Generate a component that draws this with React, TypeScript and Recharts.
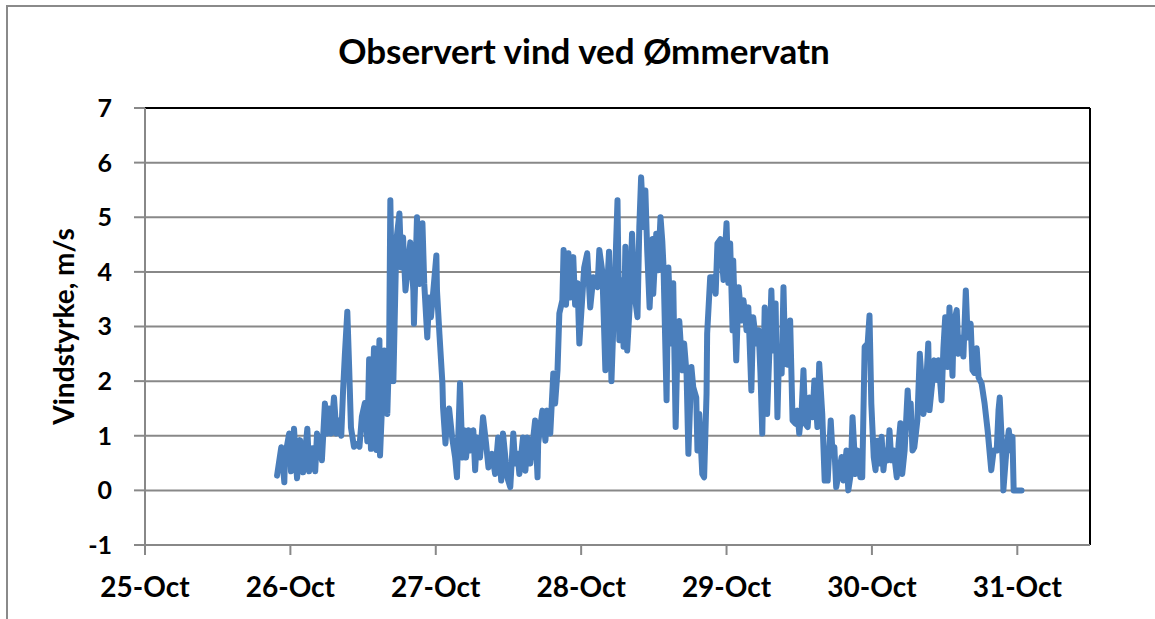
import { LineChart, Line, XAxis, YAxis, CartesianGrid, ReferenceLine } from "recharts";

// hours since 25-Oct 00:00
const hours = [
  21.8, 22.5, 23.0, 23.1, 23.8, 24.1, 24.6, 25.1, 25.6, 26.1,
  26.8, 27.1, 27.6, 28.1, 28.4, 28.9, 29.2, 29.7, 30.1, 30.4,
  30.7, 31.2, 31.6, 32.0, 32.4, 32.7, 33.0, 33.4, 33.7, 34.0,
  34.5, 35.0, 35.4, 35.8, 36.3, 36.7, 37.0, 37.3, 37.8, 38.2,
  38.7, 38.8, 39.5, 40.0, 40.3,
  40.5, 41.0, 41.5, 42.0, 42.3, 42.6, 43.0, 43.3, 43.8, 44.3,
  44.4, 44.9, 45.3, 45.8, 46.1, 46.6, 46.9, 47.2, 47.6, 48.1,
  48.2, 48.6, 49.1, 49.2, 49.6, 49.9, 50.2, 50.7, 51.2, 51.5,
  52.0, 52.4, 52.7, 53.0, 53.4, 53.7, 54.2, 54.5, 54.8, 55.3,
  55.8, 56.3, 56.7,
  57.3, 57.8, 58.3, 58.8, 59.1, 59.8, 60.3, 60.8, 61.1, 61.5,
  61.8, 62.4, 62.8, 63.1, 63.6, 64.1, 64.4, 64.8, 64.9, 65.6,
  66.1, 66.4, 66.9, 67.4, 67.7, 68.1, 68.4, 68.9, 69.1, 69.5,
  69.9, 70.2, 70.7, 71.0, 71.4, 71.7,
  72.5, 73.0, 73.5, 74.0, 74.7, 75.0, 75.5, 76.0, 76.3, 76.6,
  77.0, 77.5, 78.0, 78.3, 78.8, 79.0, 79.3, 79.6, 80.0, 80.4,
  80.8, 81.3, 81.6, 81.9, 82.3, 82.6, 82.9, 83.3, 83.8, 83.9,
  84.4, 84.7, 85.1, 85.4, 85.6, 86.1, 86.4, 86.9, 87.2, 87.6,
  87.9, 88.2, 88.7, 89.0, 89.4, 89.7, 90.2, 90.5, 91.0, 91.2,
  91.5, 92.0, 92.3, 92.7, 92.8, 93.3, 93.8, 94.2, 94.5, 95.0,
  95.5, 96.0, 96.3,
  96.6, 97.0, 97.1, 97.6, 98.0, 98.5, 98.8, 99.3, 99.6, 100.1,
  100.4, 100.9, 101.3, 101.6, 101.9, 102.3, 102.7, 103.1, 103.4, 103.7,
  104.1, 104.4, 104.7, 105.1, 105.4, 105.7, 106.1, 106.5, 106.9, 107.4,
  107.7, 108.0, 108.4, 108.7, 109.0, 109.4, 109.7, 110.2, 110.5, 111.0,
  111.3, 111.8, 112.2, 112.7, 113.2, 113.5, 113.8, 114.1, 114.5, 115.0,
  115.3, 115.8, 116.1, 116.5, 116.8, 117.3, 117.6, 118.1, 118.4,
  118.8, 119.3, 119.6, 119.9, 120.3, 120.6, 120.9, 121.2, 121.6, 121.9,
  122.2, 122.6, 122.9, 123.2, 123.6, 124.1, 124.4, 124.7, 125.0, 125.4,
  125.9, 126.2, 126.4, 126.7, 127.0, 127.5, 127.9, 128.2, 128.5, 128.8,
  129.3, 129.5, 130.0, 130.3, 130.8, 131.0, 131.5, 131.8, 132.1, 132.5,
  132.8, 133.3, 133.5, 134.0, 134.3, 134.8, 135.1, 135.5, 135.8, 136.3,
  136.6, 136.9, 137.3, 137.6, 138.1, 138.6, 139.1, 139.7, 140.1, 140.6,
  140.9, 141.1, 141.6, 141.7, 142.2, 142.6, 142.9, 143.2, 143.4, 144.0,
  144.7,
];

// vindstyrke, m/s
const speed = [
  0.27, 0.79, 0.15, 0.6, 1.04, 0.35, 1.13, 0.22, 0.92, 0.33,
  1.13, 0.35, 0.77, 0.35, 1.04, 0.79, 0.55, 1.59, 1.04, 1.5,
  1.04, 1.7, 1.04, 1.28, 1.0, 1.83, 2.5, 3.27, 2.25, 1.15,
  0.8, 0.85, 0.8, 1.35, 1.6, 0.9, 2.4, 0.76, 2.6, 0.74,
  2.75, 0.64, 2.56, 1.4, 2.56,
  5.31, 2.0, 4.58, 5.07, 4.08, 4.63, 3.66, 4.0, 4.54, 3.66,
  3.05, 5.0, 3.78, 4.89, 3.78, 2.8, 3.53, 3.17, 3.66, 4.3,
  3.66, 2.87, 1.96, 1.52, 0.86, 1.34, 1.5, 0.97, 0.6, 0.24,
  1.96, 0.6, 1.1, 0.6, 1.1, 0.73, 1.1, 0.37, 0.97, 0.6,
  1.34, 0.86, 0.42,
  0.67, 0.3, 0.97, 0.18, 1.04, 0.24, 0.06, 1.04, 0.49, 0.67,
  0.3, 0.97, 0.36, 0.97, 0.49, 0.97, 1.28, 0.24, 0.86, 1.46,
  0.91, 1.46, 1.04, 2.14, 1.59, 2.2, 3.24, 3.48, 4.4, 3.4,
  4.34, 3.53, 4.27, 3.4, 3.79, 2.69,
  4.08, 4.34, 3.35, 3.9, 3.72, 4.4, 4.0, 2.2, 3.72, 4.37,
  2.0, 3.6, 5.31, 2.75, 3.85, 2.63, 4.46, 2.56, 3.35, 4.7,
  3.6, 3.17, 4.82, 5.73, 4.82, 5.49, 4.4, 3.35, 4.6, 3.6,
  4.7, 4.03, 5.0, 4.55, 4.08, 1.65, 4.08, 2.69, 3.79, 1.16,
  2.63, 3.1, 2.2, 2.69, 2.14, 0.67, 2.26, 1.89, 1.7, 0.73,
  1.4, 0.3, 0.24, 1.77, 2.87, 3.9, 3.9, 3.6, 4.52, 4.6,
  3.85, 4.89, 3.8,
  4.52, 2.93, 4.21, 2.38, 3.72, 3.11, 3.48, 2.93, 3.35, 1.83,
  3.17, 2.69, 2.93, 2.14, 1.04, 3.35, 1.4, 2.63, 3.66, 2.56,
  3.42, 1.34, 2.63, 2.14, 3.72, 2.32, 2.3, 3.11, 1.28, 1.22,
  1.46, 1.04, 1.46, 2.2, 1.22, 1.16, 1.7, 1.34, 2.01, 1.16,
  2.32, 1.4, 0.18, 0.18, 1.28, 0.67, 0.79, 0.06, 0.3, 0.61,
  0.18, 0.73, 0.0, 0.3, 1.34, 0.3, 0.73, 0.24, 0.24,
  2.63, 2.69, 3.2, 1.59, 0.61, 0.37, 0.91, 0.49, 0.98, 0.37,
  0.73, 0.55, 1.1, 0.55, 0.73, 0.24, 0.85, 1.23, 0.3, 0.73,
  1.83, 1.23, 1.59, 0.73, 0.79, 1.28, 2.5, 2.02, 1.4, 1.6,
  2.69, 1.47, 2.02, 2.38, 2.02, 2.38, 1.65, 2.6, 3.17, 2.26,
  3.35, 2.1, 3.05, 3.3, 2.5, 2.8, 2.45, 3.66, 2.8, 3.05,
  2.2, 2.15, 2.6, 2.07, 1.96, 1.59, 1.1, 0.37, 0.73, 0.73,
  1.47, 1.7, 0.49, 0.0, 0.73, 1.1, 0.73, 0.98, 0.0, 0.0,
  0.0,
];

const dayTicks = [0, 24, 48, 72, 96, 120, 144];
const speedTicks = [-1, 0, 1, 2, 3, 4, 5, 6, 7];

const data = hours.map((h, i) => ({ h, v: speed[i] }));

const font = "Lato, 'Open Sans', sans-serif";
const gridColor = "#888888";

export default function App() {
  return (
    <div
      style={{
        position: "absolute",
        left: 0,
        top: 0,
        width: 1155,
        height: 619,
        overflow: "hidden",
        background: "#fff",
        fontFamily: font,
      }}
    >
      <div
        style={{
          position: "absolute",
          left: 6,
          top: 5,
          width: 1300,
          height: 800,
          border: "2px solid #8a8a8a",
        }}
      />
      <div
        style={{
          position: "absolute",
          left: 0,
          top: 29,
          width: 1168,
          textAlign: "center",
          fontSize: 35,
          lineHeight: "42px",
          fontWeight: 700,
          color: "#000",
        }}
      >
        Observert vind ved Ømmervatn
      </div>
      <div style={{ position: "absolute", left: 0, top: 0 }}>
        <LineChart
          width={1155}
          height={619}
          data={data}
          margin={{ top: 108, right: 65, bottom: 0, left: 0 }}
        >
          <CartesianGrid horizontal vertical={false} stroke={gridColor} strokeWidth={2} />
          <XAxis
            dataKey="h"
            type="number"
            domain={[0, 156]}
            ticks={dayTicks}
            tickFormatter={(h: number) => `${25 + h / 24}-Oct`}
            height={74}
            tickSize={10}
            tickMargin={22}
            stroke={gridColor}
            strokeWidth={2}
            tick={{ fill: "#000", fontSize: 28, fontWeight: 700, fontFamily: font }}
            interval={0}
          />
          <YAxis
            type="number"
            domain={[-1, 7]}
            ticks={speedTicks}
            width={145}
            tickSize={11}
            tickMargin={22}
            stroke={gridColor}
            strokeWidth={2}
            tick={{ fill: "#000", fontSize: 25, fontWeight: 700, fontFamily: font }}
            interval={0}
            label={{
              content: ({ viewBox }: any) => (
                <text
                  x={63}
                  y={viewBox.y + viewBox.height / 2}
                  transform={`rotate(-90, 63, ${viewBox.y + viewBox.height / 2})`}
                  textAnchor="middle"
                  dominantBaseline="central"
                  fontSize={28}
                  fontWeight={700}
                  fontFamily={font}
                  fill="#000"
                >
                  Vindstyrke, m/s
                </text>
              ),
            }}
          />
          <ReferenceLine y={7} stroke="#000" strokeWidth={2} />
          <ReferenceLine x={156} stroke="#000" strokeWidth={2} />
          <Line
            type="linear"
            dataKey="v"
            stroke="#4a7ebb"
            strokeWidth={6}
            strokeLinejoin="round"
            strokeLinecap="round"
            dot={false}
            isAnimationActive={false}
          />
        </LineChart>
      </div>
    </div>
  );
}
